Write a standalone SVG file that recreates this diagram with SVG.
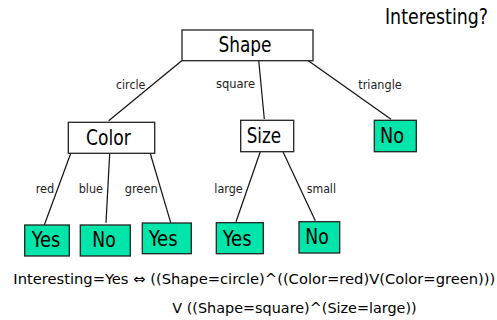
<svg xmlns="http://www.w3.org/2000/svg" width="497" height="320" viewBox="0 0 497 320">
<style>
text{font-family:"DejaVu Sans Condensed","DejaVu Sans","Liberation Sans",sans-serif;fill:#000}
.box{fill:#fff;stroke:#222;stroke-width:1.3}
.leaf{fill:#00E6AA;stroke:#222;stroke-width:1.3}
.big{font-size:21px}
.lbl{font-size:12.5px;fill:#222}
.f{font-size:14px}
.c line{stroke:#111;stroke-width:1.2}
</style>
<rect width="497" height="320" fill="#fff"/>
<text class="big" x="385" y="23.5" textLength="103" lengthAdjust="spacingAndGlyphs">Interesting?</text>
<g class="c" id="connectors">
<line x1="181.7" y1="60.7" x2="108.7" y2="120.7"/>
<line x1="258.7" y1="60" x2="264.3" y2="119"/>
<line x1="307.3" y1="60" x2="391" y2="119.3"/>
<line x1="70.7" y1="153.5" x2="44.3" y2="225"/>
<line x1="109.7" y1="153.5" x2="106" y2="222.7"/>
<line x1="150.3" y1="153.5" x2="170.7" y2="222.7"/>
<line x1="260.3" y1="151.7" x2="236" y2="221.7"/>
<line x1="283" y1="151.7" x2="315.3" y2="220.7"/>
<text class="lbl" x="116" y="89.3" textLength="29.3" lengthAdjust="spacingAndGlyphs">circle</text>
<text class="lbl" x="216" y="87.7" textLength="39" lengthAdjust="spacingAndGlyphs">square</text>
<text class="lbl" x="358.3" y="89.3" textLength="43.4" lengthAdjust="spacingAndGlyphs">triangle</text>
<text class="lbl" x="35.7" y="193.3" textLength="18.6" lengthAdjust="spacingAndGlyphs">red</text>
<text class="lbl" x="78.7" y="193.3" textLength="24.3" lengthAdjust="spacingAndGlyphs">blue</text>
<text class="lbl" x="124.7" y="193.3" textLength="33" lengthAdjust="spacingAndGlyphs">green</text>
<text class="lbl" x="214.3" y="193.3" textLength="28.4" lengthAdjust="spacingAndGlyphs">large</text>
<text class="lbl" x="306.7" y="193.3" textLength="29.3" lengthAdjust="spacingAndGlyphs">small</text>
</g>
<g id="shape"><rect class="box" x="182" y="30" width="131" height="30.7"/><text class="big" x="218.5" y="52.3" textLength="53" lengthAdjust="spacingAndGlyphs">Shape</text></g>
<g id="color"><rect class="box" x="68.3" y="122.3" width="86.4" height="31"/><text class="big" x="86" y="145" textLength="44.7" lengthAdjust="spacingAndGlyphs">Color</text></g>
<g id="size"><rect class="box" x="240.7" y="120.3" width="53" height="31.4"/><text class="big" x="246.7" y="142.7" textLength="34.3" lengthAdjust="spacingAndGlyphs">Size</text></g>
<g id="no-triangle"><rect class="leaf" x="374.3" y="120.3" width="42" height="31.4"/><text class="big" x="380" y="142.7" textLength="24" lengthAdjust="spacingAndGlyphs">No</text></g>
<g id="yes-red"><rect class="leaf" x="24.7" y="225" width="44.6" height="31"/><text class="big" x="31.7" y="246.7" textLength="28.6" lengthAdjust="spacingAndGlyphs">Yes</text></g>
<g id="no-blue"><rect class="leaf" x="80.3" y="225" width="50" height="31"/><text class="big" x="92.3" y="246.7" textLength="23.4" lengthAdjust="spacingAndGlyphs">No</text></g>
<g id="yes-green"><rect class="leaf" x="142.3" y="223" width="49" height="30.7"/><text class="big" x="148.7" y="245.7" textLength="29" lengthAdjust="spacingAndGlyphs">Yes</text></g>
<g id="yes-large"><rect class="leaf" x="216.3" y="222.7" width="47" height="31"/><text class="big" x="222.7" y="245.7" textLength="29" lengthAdjust="spacingAndGlyphs">Yes</text></g>
<g id="no-small"><rect class="leaf" x="299" y="221.7" width="40.7" height="31.3"/><text class="big" x="305.3" y="244.3" textLength="23.4" lengthAdjust="spacingAndGlyphs">No</text></g>
<text class="f" x="13.3" y="283.5" textLength="482" lengthAdjust="spacingAndGlyphs">Interesting=Yes ⇔ ((Shape=circle)^((Color=red)V(Color=green)))</text>
<text class="f" x="172.3" y="313.3" textLength="244.4" lengthAdjust="spacingAndGlyphs">V ((Shape=square)^(Size=large))</text>
</svg>
